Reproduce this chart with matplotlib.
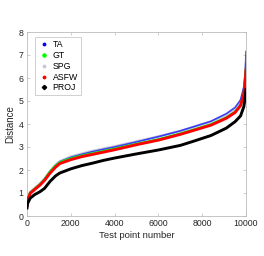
import matplotlib
matplotlib.use("Agg")
import matplotlib.pyplot as plt
from matplotlib.lines import Line2D

plt.rcParams["font.family"] = ["Liberation Sans", "DejaVu Sans"]

x_pts = [0, 30, 150, 350, 600, 800, 1050, 1300, 1500, 2000, 2500, 3000, 3500, 4000,
         5000, 6000, 7000, 7600, 8400, 9100, 9500, 9750, 9900, 9970, 10000]

proj = [0.35, 0.55, 0.78, 0.93, 1.06, 1.20, 1.50, 1.74, 1.87, 2.05, 2.19, 2.30, 2.42, 2.52,
        2.70, 2.87, 3.07, 3.25, 3.50, 3.82, 4.10, 4.35, 4.75, 5.20, 5.50]
asfw = [0.45, 0.70, 0.99, 1.15, 1.35, 1.55, 1.86, 2.12, 2.28, 2.45, 2.58, 2.68, 2.78, 2.88,
        3.10, 3.30, 3.55, 3.72, 3.95, 4.25, 4.50, 4.80, 5.30, 5.90, 6.35]
gt   = [0.46, 0.72, 1.01, 1.17, 1.38, 1.58, 1.92, 2.18, 2.33, 2.50, 2.62, 2.72, 2.82, 2.92,
        3.13, 3.33, 3.58, 3.75, 3.98, 4.28, 4.52, 4.82, 5.30, 5.90, 6.35]
ta   = [0.50, 0.75, 1.03, 1.19, 1.40, 1.60, 1.93, 2.20, 2.36, 2.55, 2.68, 2.80, 2.90, 3.00,
        3.22, 3.45, 3.70, 3.88, 4.12, 4.45, 4.72, 5.05, 5.60, 6.30, 7.15]
spg  = [0.52, 0.77, 1.05, 1.21, 1.42, 1.62, 1.95, 2.22, 2.38, 2.58, 2.71, 2.83, 2.93, 3.03,
        3.24, 3.46, 3.70, 3.87, 4.10, 4.40, 4.65, 4.95, 5.45, 6.10, 6.60]

labels = ["TA", "GT", "SPG", "ASFW", "PROJ"]
colors = ["#0000ff", "#00ff00", "#c8c8dc", "#ff0000", "#000000"]

fig = plt.figure(figsize=(2.64, 2.56), dpi=100)
ax = fig.add_axes([27/264, 1-216/256, 219/264, 184/256])

ax.plot(x_pts, spg, color=colors[2], lw=1.8, zorder=2)
ax.plot(x_pts, ta, color=colors[0], lw=1.2, zorder=3, alpha=0.7)
ax.plot(x_pts, gt, color=colors[1], lw=1.8, zorder=3)
ax.plot(x_pts, asfw, color=colors[3], lw=2.1, zorder=4)
ax.plot(x_pts, proj, color=colors[4], lw=2.1, zorder=5)

ax.set_xlim(0, 10000)
ax.set_ylim(0, 8)
ax.set_xticks([0, 2000, 4000, 6000, 8000, 10000])
ax.set_yticks(range(0, 9))
ax.tick_params(direction="in", length=2, width=0.5, labelsize=6.3, colors="#bbbbbb",
               labelcolor="#262626", top=True, right=True, pad=2.5)
for s in ax.spines.values():
    s.set_color("#bbbbbb")
    s.set_linewidth(0.6)
ax.set_xlabel("Test point number", fontsize=6.8, color="#262626", labelpad=1.5)
ax.set_ylabel("Distance", fontsize=7, color="#262626", labelpad=2.5)

markers = [".", ".", ".", ".", "D"]
sizes = [3.5, 4.5, 3.5, 3.5, 2.2]
handles = [Line2D([], [], ls="none", marker=m, color=c, markersize=s)
           for m, c, s in zip(markers, colors, sizes)]
leg = ax.legend(handles, labels, loc="upper left", fontsize=6.3, frameon=True,
                fancybox=False, edgecolor="#bbbbbb", handlelength=1.4,
                handletextpad=0.3, labelspacing=0.2, borderpad=0.35,
                borderaxespad=0, bbox_to_anchor=(7.7/219, 1 - 5.3/184))
leg.get_frame().set_linewidth(0.6)

fig.savefig("out.png", dpi=100)
